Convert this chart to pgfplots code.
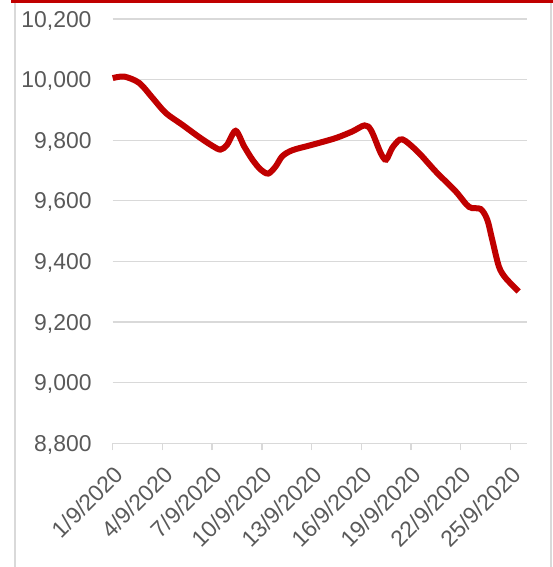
\documentclass[border=0pt]{standalone}
\usepackage{fontspec}
\setmainfont{Liberation Sans}
\usepackage{pgfplots}
\pgfplotsset{compat=1.18}
\definecolor{lred}{HTML}{C00000}
\definecolor{gridc}{HTML}{D9D9D9}
\definecolor{labc}{HTML}{595959}
\begin{document}
\begin{tikzpicture}[x=1bp,y=1bp]
\useasboundingbox (0,0) rectangle (553,-567);
\fill[lred] (11,0) rectangle (553,-3);
\draw[gridc, line width=1.3bp] (15,-3) -- (15,-567);
\draw[gridc, line width=1.3bp] (551,-3) -- (551,-567);
\begin{axis}[
  at={(112.7bp,-443.3bp)}, anchor=south west,
  scale only axis, width=414.3bp, height=424.3bp,
  xmin=1, xmax=26, ymin=8800, ymax=10200,
  scaled y ticks=false, scaled x ticks=false,
  axis x line*=bottom, axis y line*=left,
  x axis line style={draw=gridc, line width=1.3bp, -},
  y axis line style={draw=none},
  xtick={1,4,7,10,13,16,19,22,25},
  xticklabels={1/9/2020,4/9/2020,7/9/2020,10/9/2020,13/9/2020,16/9/2020,19/9/2020,22/9/2020,25/9/2020},
  ytick={8800,9000,9200,9400,9600,9800,10000,10200},
  yticklabels={{8,800},{9,000},{9,200},{9,400},{9,600},{9,800},{10,000},{10,200}},
  xtick style={draw=gridc, line width=1.3bp},
  ytick style={draw=none},
  tick align=outside, major tick length=6.7bp,
  ymajorgrids, grid style={draw=gridc, line width=1.3bp},
  tick label style={font=\fontsize{23}{27}\selectfont, text=labc, inner sep=0pt},
  yticklabel style={anchor=base east, xshift=-14.3bp, yshift=-8bp},
  xticklabel style={xshift=12bp, yshift=-26bp, rotate=45, anchor=base east},
  clip=false,
]
\addplot[lred, line width=6bp, smooth, tension=0.5] coordinates {
(1.0,10005) (1.7,10010) (2.6,9989) (3.4,9940) (4.2,9890) (5.2,9851) (6.2,9811) (7.0,9782) (7.5,9769) (7.9,9785) (8.42,9831)
(8.93,9780) (9.43,9736) (9.93,9703) (10.39,9690) (10.84,9714) (11.23,9747) (11.84,9767) (13.04,9785) (14.45,9807) (15.46,9829) (16.2,9849)
(16.6,9832) (17.17,9758) (17.5,9736) (17.87,9775) (18.32,9802) (18.68,9797) (19.48,9758) (20.49,9697) (21.7,9631) (22.5,9580) (23.2,9573)
(23.6,9538) (23.9,9472) (24.3,9384) (24.7,9346) (25.5,9301)
};
\end{axis}
\end{tikzpicture}
\end{document}
